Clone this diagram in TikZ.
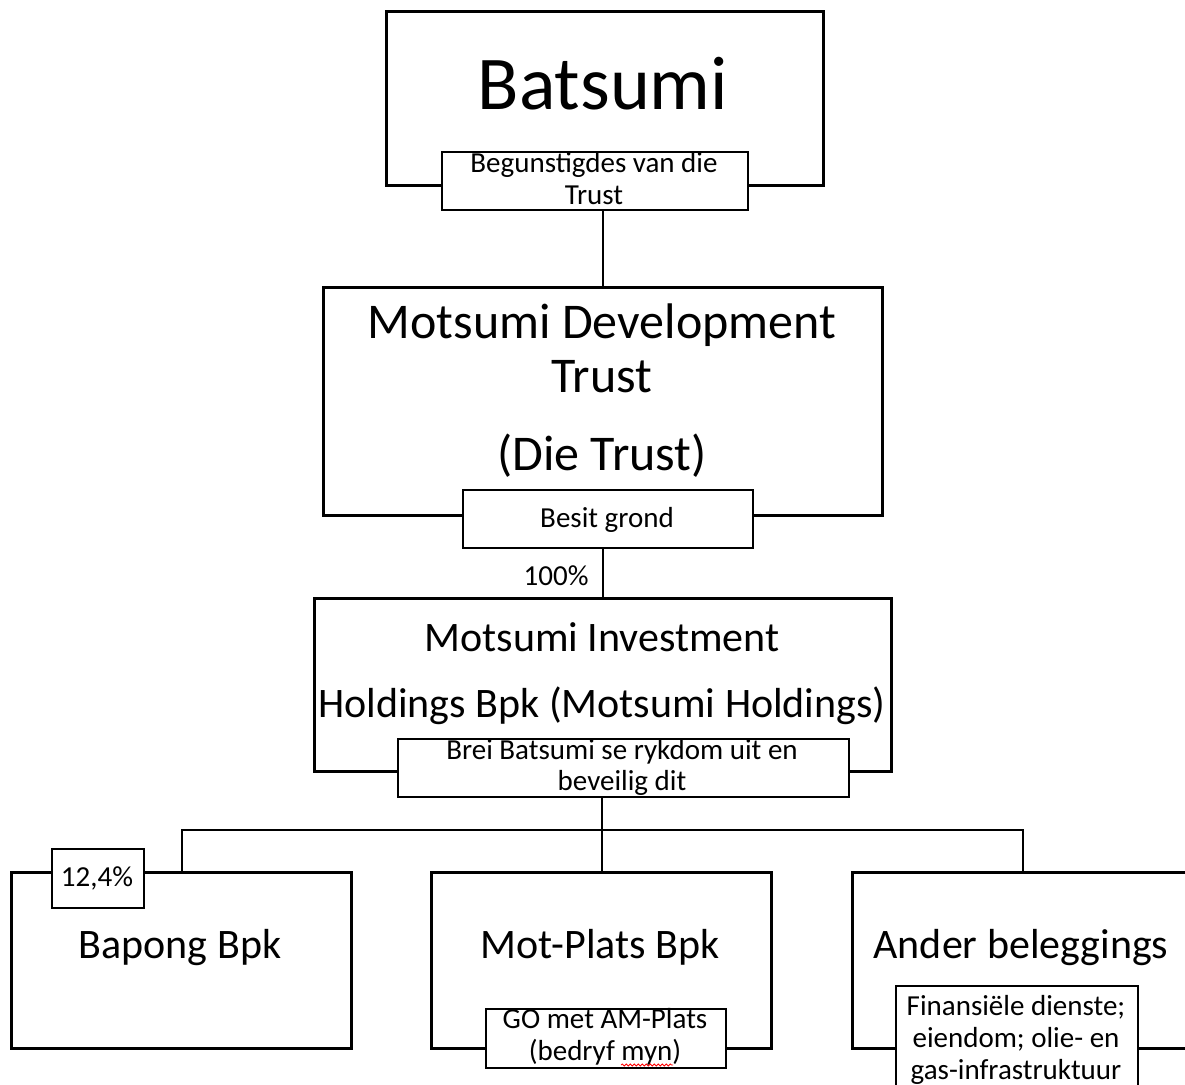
\documentclass[tikz,border=0pt]{standalone}
\usepackage{fontspec}
\setmainfont{Carlito}
\usetikzlibrary{decorations.pathmorphing}
\begin{document}
\begin{tikzpicture}[x=1pt,y=-1pt,
  bigbox/.style={draw=black,line width=3pt,rectangle,inner sep=0pt,anchor=north west},
  tagbox/.style={draw=black,line width=2pt,fill=white,rectangle,inner sep=0pt,anchor=north west},
  conn/.style={draw=black,line width=2pt},
  ftitle/.style={font=\fontsize{76}{90}\selectfont,anchor=base},
  fbig/.style={font=\fontsize{50}{60}\selectfont,anchor=base},
  fmid/.style={font=\fontsize{42}{50}\selectfont,anchor=base},
  fsmall/.style={font=\fontsize{29}{33}\selectfont,anchor=base}]
\useasboundingbox (0,0) rectangle (1185,1084);
% main boxes
\node[bigbox,minimum width=437,minimum height=174] (bats) at (385,10) {};
\node[bigbox,minimum width=559,minimum height=228] (trust) at (322,286) {};
\node[bigbox,minimum width=577,minimum height=173] (inv) at (313,597) {};
\node[bigbox,minimum width=340,minimum height=176] (bapong) at (10,871) {};
\node[bigbox,minimum width=340,minimum height=176] (motplats) at (430,871) {};
\node[bigbox,minimum width=340,minimum height=176] (ander) at (851,871) {};
% connectors
\coordinate (bus) at (600,830);
\draw[conn] (trust.north |- 0,209) -- (trust.north);
\draw[conn] (inv.north |- 0,547) -- (inv.north);
\draw[conn] (motplats.north |- 0,796) -- (motplats.north);
\draw[conn] (bapong.north) |- (bus) -| (ander.north);
% tag boxes
\node[tagbox,minimum width=306,minimum height=58] (beg) at (441,151) {};
\node[tagbox,minimum width=290,minimum height=58] (besit) at (462,489) {};
\node[tagbox,minimum width=451,minimum height=58] (brei) at (397,738) {};
\node[tagbox,minimum width=92,minimum height=59] (pct) at (51,848) {};
\node[tagbox,minimum width=240,minimum height=59] (go) at (485,1008) {};
\node[tagbox,minimum width=242,minimum height=110] (fin) at (895,985) {};
% texts
\node[ftitle] (tbats) at (603,109) {Batsumi};
\node[fsmall] (tbeg1) at (594,172) {Begunstigdes van die};
\node[fsmall] (tbeg2) at (594,204) {Trust};
\node[fbig] (ttr1) at (602,338) {Motsumi Development};
\node[fbig] (ttr2) at (602,392) {Trust};
\node[fbig] (ttr3) at (602,470) {(Die Trust)};
\node[fsmall] (tbesit) at (607,527) {Besit grond};
\node[fsmall,anchor=base east] (t100) at (592,585) {100\%};
\node[fmid] (tinv1) at (602,651) {Motsumi Investment};
\node[fmid] (tinv2) at (602,717) {Holdings Bpk (Motsumi Holdings)};
\node[fsmall] (tbrei1) at (622,759) {Brei Batsumi se rykdom uit en};
\node[fsmall] (tbrei2) at (622,790) {beveilig dit};
\node[fsmall] (tpct) at (97,886) {12,4\%};
\node[fmid] (tbap) at (180,958) {Bapong Bpk};
\node[fmid] (tmot) at (600,958) {Mot-Plats Bpk};
\node[fmid] (tand) at (1021,958) {Ander beleggings};
\node[fsmall] (tgo1) at (605,1028) {GO met AM-Plats};
\node[fsmall] (tgo2) at (605,1060) {(bedryf myn)};
\node[fsmall] (tfin1) at (1016,1015) {Finansiële dienste;};
\node[fsmall] (tfin2) at (1016,1047) {eiendom; olie- en};
\node[fsmall] (tfin3) at (1016,1079) {gas-infrastruktuur};
\draw[red,line width=0.8pt,decorate,decoration={snake,amplitude=1pt,segment length=4pt}] (621,1065) -- (673,1065);
\end{tikzpicture}
\end{document}
